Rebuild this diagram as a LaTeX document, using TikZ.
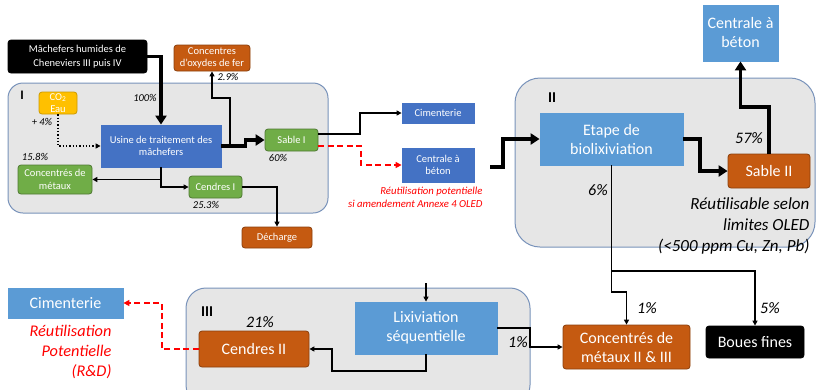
\documentclass[tikz,border=0pt]{standalone}
\usepackage{fontspec}
\setmainfont{Carlito}
\usetikzlibrary{arrows.meta,calc}
\definecolor{grn}{HTML}{70AD47}
\definecolor{org}{HTML}{C55A11}
\definecolor{bdk}{HTML}{4472C4}
\definecolor{blt}{HTML}{5B9BD5}
\definecolor{ylw}{HTML}{FFC000}
\definecolor{secfill}{HTML}{E6E6E6}
\definecolor{secline}{HTML}{7892BA}
\definecolor{redl}{HTML}{FF0000}
\tikzset{
  bx/.style={draw, text=white, align=center, inner sep=1pt, line width=0.8pt},
  fs/.style={font=\fontsize{10.5}{12.5}\selectfont},
  fm/.style={font=\fontsize{10.5}{13.5}\selectfont},
  fl/.style={font=\fontsize{16}{19}\selectfont},
  gbox/.style={bx, fill=grn, draw=grn!70!black, rounded corners=3pt},
  obox/.style={bx, fill=org, draw=org!70!black, rounded corners=3pt},
  dbox/.style={bx, fill=bdk, draw=bdk},
  lbox/.style={bx, fill=blt, draw=blt},
  ybox/.style={bx, fill=ylw, draw=ylw!80!black, rounded corners=3pt},
  kbox/.style={bx, fill=black, draw=black, rounded corners=3pt},
  sect/.style={fill=secfill, draw=secline, line width=1pt},
  thin/.style={line width=1.3pt, -{Triangle[length=5pt,width=5pt]}},
  thk/.style={line width=3.2pt, -{Triangle[length=9pt,width=11pt]}},
  reddash/.style={line width=2pt, draw=redl, dash pattern=on 6pt off 3.5pt, -{Triangle[length=6pt,width=6pt]}, redl},
  pct/.style={font=\fontsize{10.5}{12}\selectfont\itshape},
  pctl/.style={font=\fontsize{16}{19}\selectfont\itshape},
  secl/.style={font=\fontsize{15}{17}\selectfont\bfseries}
}
\begin{document}
\begin{tikzpicture}[x=1pt,y=-1pt]
\useasboundingbox (0,0) rectangle (816,389);
\clip (0,0) rectangle (816,389);
% sections
\draw[sect, rounded corners=15pt] (8,83) rectangle (328,213);
\draw[sect, rounded corners=25pt] (515,78) rectangle (815,247);
\draw[sect, rounded corners=20pt] (186,288) rectangle (530,405);
\node[secl, font=\fontsize{13}{14}\selectfont\bfseries] (lI) at (22,95) {I};
\node[secl] (lII) at (552,98) {II};
\node[secl] (lIII) at (207,312) {III};
% nodes section I
\node[kbox, fm, minimum width=139pt, minimum height=33pt] (mach) at (77.5,56.5) {Mâchefers humides de\\Cheneviers III puis IV};
\node[obox, fs, minimum width=76pt, minimum height=26pt] (oxy) at (212,58) {Concentres\\d’oxydes de fer};
\node[ybox, fs, minimum width=38pt, minimum height=22pt] (co2) at (58,103) {CO\textsubscript{2}\\Eau};
\node[dbox, fs, minimum width=120pt, minimum height=42pt] (usine) at (161,146) {Usine de traitement des\\mâchefers};
\node[gbox, fs, minimum width=53pt, minimum height=22pt] (sable1) at (291.5,140) {Sable I};
\node[gbox, fs, minimum width=74pt, minimum height=29pt] (conc1) at (55,179.5) {Concentrés de\\métaux};
\node[gbox, fs, minimum width=53pt, minimum height=22pt] (cend1) at (215.5,187) {Cendres I};
\node[obox, fs, minimum width=70pt, minimum height=21pt] (dech) at (277,237.5) {Décharge};
\node[dbox, fs, minimum width=72pt, minimum height=20pt] (cim1) at (438,113) {Cimenterie};
\node[dbox, fs, minimum width=72pt, minimum height=34pt] (cent1) at (438,165) {Centrale à\\béton};
% section II
\node[lbox, fl, minimum width=143pt, minimum height=52pt] (etape) at (611.5,139) {Etape de\\biolixiviation};
\node[obox, fl, minimum width=82pt, minimum height=34pt] (sable2) at (769,171) {Sable II};
\node[lbox, fl, minimum width=75pt, minimum height=56pt] (cent2) at (740.5,33) {Centrale à\\béton};
\node[obox, fl, minimum width=127pt, minimum height=44pt] (conc2) at (626.5,347) {Concentrés de\\métaux II \& III};
\node[kbox, fl, minimum width=98pt, minimum height=32pt] (boues) at (755,342) {Boues fines};
% section III
\node[lbox, fl, minimum width=142pt, minimum height=52pt] (lix) at (426,328) {Lixiviation\\séquentielle};
\node[obox, fl, minimum width=110pt, minimum height=36pt] (cend2) at (254,349) {Cendres II};
\node[lbox, fl, minimum width=115pt, minimum height=30pt] (cim2) at (65.5,303) {Cimenterie};
% connectors section I
\draw[thk] (mach.east) -| (usine.north);
\draw[thk] (usine.east) -- ++(24,0) |- (sable1.west);
\coordinate (j1) at (230,146);
\draw[thin] (j1) -- (230,98) -| (oxy.south);
\draw[line width=1.3pt, dotted, -{Triangle[length=5pt,width=5pt]}] (co2.south) |- (usine.west);
\draw[thin] (usine.south) |- (conc1.east);
\draw[thin] (usine.south) |- (cend1.west);
\draw[thin] (cend1.east) -| (dech.north);
\draw[thin] ($(sable1.east)+(0,-6)$) -- (360,134) |- (cim1.west);
\draw[reddash] ($(sable1.east)+(0,6)$) -- (361,146) |- (cent1.west);
% to section II
\draw[thk] ($(cent1.east)+(16,2)$) -- (503,167) |- (etape.west);
\draw[thk] (etape.east) -- (700,139) |- (sable2.west);
\draw[thk] (sable2.north) -- (769,107) -| (cent2.south);
\draw[thin] (etape.south) -- (611.5,292) -| (conc2.north);
\coordinate (j2) at (611.5,271);
\draw[thin] (j2) -| (boues.north);
% section III
\coordinate (lixin) at (426,283);
\draw[thin] (lixin) -- (lix.north);
\draw[thin] (lix.south) -- (426,371) -- (332,371) |- (cend2.east);
\draw[thin] (lix.east) -- (530,328) |- (conc2.west);
\draw[reddash] (cend2.west) -- (162,349) |- (cim2.east);
% labels
\node[pct] (p100) at (145,98) {100\%};
\node[pct] (p29) at (228,77) {2.9\%};
\node[pct] (p4) at (42,122) {+ 4\%};
\node[pct] (p158) at (35,157) {15.8\%};
\node[pct] (p60) at (278,158) {60\%};
\node[pct] (p253) at (206,205) {25.3\%};
\node[pctl] (p57) at (749,138) {57\%};
\node[pctl] (p6) at (598,190) {6\%};
\node[pctl] (p1a) at (647,308) {1\%};
\node[pctl] (p5) at (770,308) {5\%};
\node[pctl] (p1b) at (518,342) {1\%};
\node[pctl] (p21) at (260,322) {21\%};
\node[font=\fontsize{10.7}{13}\selectfont\itshape, text=redl, align=right, anchor=east] (rI) at (486,197) {Réutilisation potentielle\\si amendement Annexe 4 OLED};
\node[font=\fontsize{17}{21}\selectfont\itshape, align=right, anchor=east] (rII) at (813,226) {Réutilisable selon\\limites OLED\\(<500 ppm Cu, Zn, Pb)};
\node[font=\fontsize{16.3}{20}\selectfont\itshape, text=redl, align=right, anchor=east] (rIII) at (115,352) {Réutilisation\\Potentielle\\(R\&D)};
\end{tikzpicture}
\end{document}
